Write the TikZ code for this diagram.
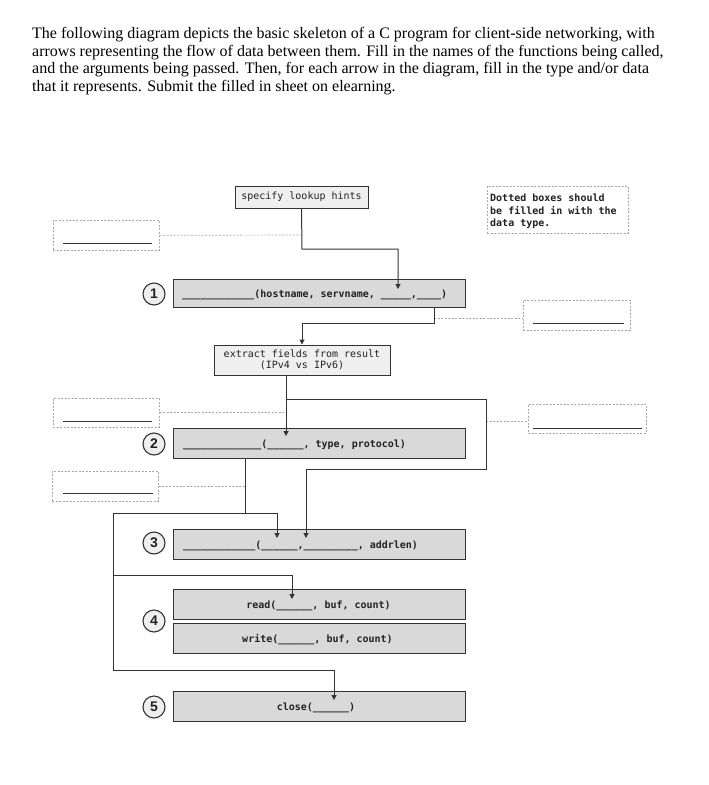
\documentclass[tikz,border=0pt]{standalone}
\usepackage{fontspec}
\setmainfont{Liberation Serif}
\newfontfamily\monofont{DejaVu Sans Mono}
\newfontfamily\numfont{Liberation Sans}
\usetikzlibrary{arrows.meta}
\definecolor{boxfill}{HTML}{D9D9D9}
\definecolor{lightfill}{HTML}{EFEFEF}
\definecolor{linec}{HTML}{333333}
\definecolor{dotc}{HTML}{A8A8A8}
\definecolor{textc}{HTML}{222222}
\begin{document}
\begin{tikzpicture}[x=1pt,y=-1pt,
  fbox/.style={draw=linec, fill=boxfill, line width=1.1pt, anchor=north west, inner sep=0pt, minimum width=292pt, minimum height=30pt},
  lbox/.style={draw=linec, fill=lightfill, line width=1pt, inner sep=0pt, align=center, text=textc,
    font=\monofont\fontsize{10}{11}\selectfont},
  ftext/.style={inner sep=0pt, text=textc, font=\monofont\bfseries\fontsize{10}{12}\selectfont},
  dbox/.style={draw=dotc, line width=0.7pt, dash pattern=on 2pt off 1.5pt, anchor=north west, inner sep=0pt, minimum width=106pt, minimum height=29pt},
  bline/.style={draw=linec, line width=1pt},
  conn/.style={draw=linec, line width=1pt},
  arr/.style={conn, -{Triangle[length=5pt,width=5pt]}},
  dotconn/.style={draw=dotc, line width=0.7pt, dash pattern=on 2pt off 1.5pt},
  numc/.style={circle, draw=linec, fill=lightfill, line width=1.1pt, minimum size=22pt, inner sep=0pt, text=textc,
    font=\numfont\bfseries\fontsize{14}{14}\selectfont}
]
\fill[white] (0,0) rectangle (709,785);
\useasboundingbox (0,0) rectangle (709,785);

% instructions
\node[anchor=north west, inner sep=0pt, align=left, font=\fontsize{16}{17.7}\selectfont] (para) at (32,27)
{The following diagram depicts the basic skeleton of a C program for client-side networking, with\\
arrows representing the flow of data between them. Fill in the names of the functions being called,\\
and the arguments being passed. Then, for each arrow in the diagram, fill in the type and/or data\\
that it represents. Submit the filled in sheet on elearning.};

% note box
\node[dbox, minimum width=141pt, minimum height=47pt] (note) at (487,186) {};
\node[anchor=north west, inner sep=0pt, align=left, text=textc, font=\monofont\bfseries\fontsize{10}{12.5}\selectfont] (notet) at (490,194)
{Dotted boxes should\\be filled in with the\\data type.};

% light boxes
\node[lbox, minimum width=133pt, minimum height=22pt] (lookup) at (301.5,197) {specify lookup hints};
\node[lbox, minimum width=176pt, minimum height=30pt] (extract) at (302,360) {extract fields from result\\(IPv4 vs IPv6)};

% function boxes
\node[fbox, minimum height=28pt] (b1) at (173,279) {};
\node[fbox] (b2) at (173,428) {};
\node[fbox] (b3) at (173,529) {};
\node[fbox] (brd) at (173,589) {};
\node[fbox] (bwr) at (173,623) {};
\node[fbox] (bcl) at (173,691) {};

\node[ftext, anchor=base west] (b1t) at (182,297) {\_\_\_\_\_\_\_\_\_\_\_\_(hostname, servname, \_\_\_\_\_,\_\_\_\_)};
\node[ftext, anchor=base west] (b2t) at (183,447) {\_\_\_\_\_\_\_\_\_\_\_\_\_(\_\_\_\_\_\_, type, protocol)};
\node[ftext, anchor=base west] (b3t) at (183,548) {\_\_\_\_\_\_\_\_\_\_\_\_(\_\_\_\_\_\_,\_\_\_\_\_\_\_\_\_, addrlen)};
\node[ftext, anchor=base] (brdt) at (318.5,608) {read(\_\_\_\_\_\_, buf, count)};
\node[ftext, anchor=base] (bwrt) at (317.5,642) {write(\_\_\_\_\_\_, buf, count)};
\node[ftext, anchor=base] (bclt) at (316,710) {close(\_\_\_\_\_\_)};

% numbers
\node[numc] (n1) at (154,294) {1};
\node[numc] (n2) at (154,444) {2};
\node[numc] (n3) at (154,543) {3};
\node[numc] (n4) at (154,621) {4};
\node[numc] (n5) at (154,707) {5};

% dotted boxes
\node[dbox, minimum height=30pt] (lb1) at (53,220) {};
\node[dbox] (lb2) at (53,398) {};
\node[dbox, minimum height=30pt] (lb3) at (52,471) {};
\node[dbox, minimum width=107pt, minimum height=30pt] (rb1) at (523,300) {};
\node[dbox, minimum width=118pt] (rb2) at (528,404) {};
\draw[bline] ([shift={(10,-7)}]lb1.south west) -- ([shift={(-8,-7)}]lb1.south east);
\draw[bline] ([shift={(10,-6)}]lb2.south west) -- ([shift={(-8,-6)}]lb2.south east);
\draw[bline] ([shift={(11,-8)}]lb3.south west) -- ([shift={(-6,-8)}]lb3.south east);
\draw[bline] ([shift={(10,-7)}]rb1.south west) -- ([shift={(-7,-7)}]rb1.south east);
\draw[bline] ([shift={(5,-5)}]rb2.south west) -- ([shift={(-5,-5)}]rb2.south east);

% coordinates
\coordinate (j1) at (302,249);
\coordinate (b1in) at (398,289);
\coordinate (d1) at (302,235);
\coordinate (b1out) at (434,307);
\coordinate (j2) at (434,323);
\coordinate (d2) at (434,318);
\coordinate (exout) at (286,375);
\coordinate (b2in) at (286,436);
\coordinate (j3a) at (286,399);
\coordinate (d3) at (286,412);
\coordinate (j3b) at (486,399);
\coordinate (j3c) at (486,469);
\coordinate (d4) at (486,421);
\coordinate (b3inB) at (306,538);
\coordinate (b2out) at (245,458);
\coordinate (j4) at (245,513);
\coordinate (d5) at (245,486);
\coordinate (b3inA) at (277,538);
\coordinate (j5) at (113,513);
\coordinate (j7) at (113,575);
\coordinate (j6) at (113,670);
\coordinate (rdin) at (292,599);
\coordinate (clin) at (334,700);

% dotted connectors
\draw[dotconn] (lb1.east) -- (d1);
\draw[dotconn] (d2) -- (d2 -| rb1.west);
\draw[dotconn] (lb2.east |- d3) -- (d3);
\draw[dotconn] (d4) -- (d4 -| rb2.west);
\draw[dotconn] (lb3.east |- d5) -- (d5);

% connectors
\draw[arr] (lookup.south) -- (j1) -| (b1in);
\draw[arr] (b1out) -- (j2) -| (extract.north);
\draw[arr] (exout) -- (b2in);
\draw[arr] (j3a) -- (j3b) -- (j3c) -| (b3inB);
\draw[arr] (b2out) -- (j4) -| (b3inA);
\draw[arr] (j4) -- (j5) -- (j6) -| (clin);
\draw[arr] (j7) -| (rdin);
\end{tikzpicture}
\end{document}
